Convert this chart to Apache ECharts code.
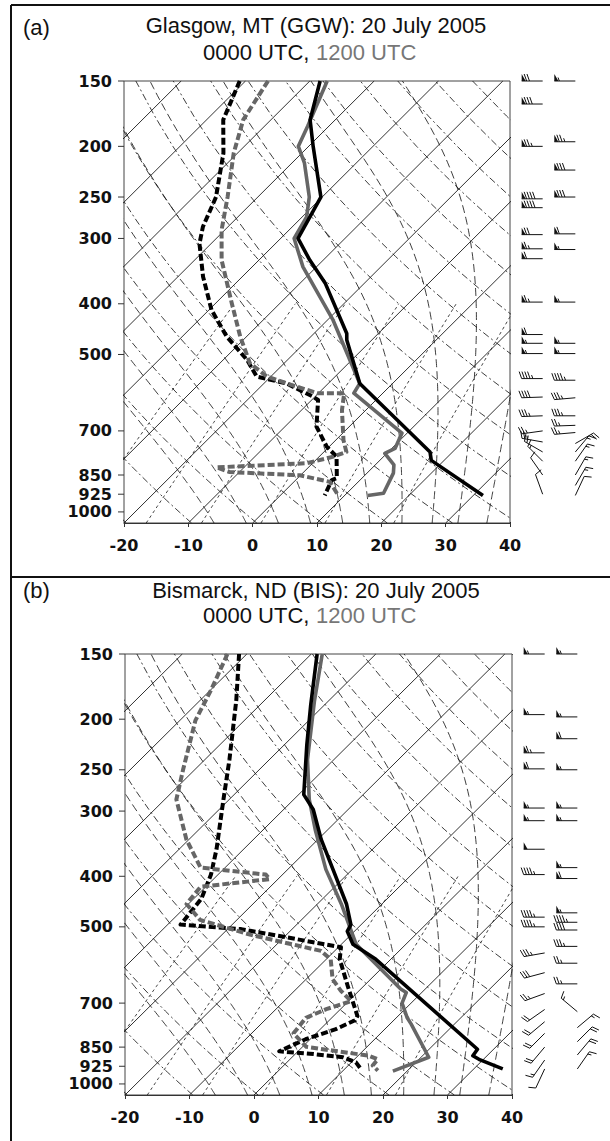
<!DOCTYPE html>
<html><head><meta charset="utf-8">
<script src="https://cdn.jsdelivr.net/npm/echarts@6/dist/echarts.min.js"></script>
<style>html,body{margin:0;padding:0;background:#fff}#c{width:610px;height:1141px}</style>
</head><body><div id="c"></div>
<script>
// ---------- data (pressure hPa, temperature °C) ----------
const pressureTicks = [150,200,250,300,400,500,700,850,925,1000];
const tempMin = -20, tempMax = 40, tempStep = 10;

// Panel (a) Glasgow, MT
const ggwTemp00 = [[150,-58.4],[178,-53.9],[200,-49.3],[250,-40.2],[300,-37.3],[330,-32.1],[366,-26.0],[456,-14.9],[469,-13.9],[568,-5.1],[768,16.5],[797,18.0],[930,31.5]];
const ggwTemp12 = [[150,-57.3],[183,-53.3],[200,-51.6],[215,-48.1],[250,-42.0],[273,-39.3],[300,-37.9],[340,-32.1],[430,-19.1],[568,-5.1],[593,-4.5],[707,9.2],[756,10.5],[773,9.7],[813,12.9],[843,14.1],[921,15.7],[930,13.6]];
const ggwDew00 = [[150,-70.9],[178,-67.4],[206,-62.2],[250,-56.5],[285,-53.9],[307,-51.8],[355,-46.1],[411,-39.6],[462,-33.1],[512,-26.3],[551,-22.2],[568,-16.5],[602,-10.3],[611,-9.0],[687,-5.1],[750,-0.4],[784,2.7],[862,6.1],[869,5.6],[930,6.9]];
const ggwDew12 = [[150,-66.5],[178,-64.3],[206,-60.6],[250,-54.7],[289,-50.5],[330,-45.8],[399,-37.5],[462,-31.0],[520,-25.3],[551,-20.6],[576,-14.4],[593,-10.1],[593,-6.0],[639,-3.7],[729,1.2],[768,3.5],[784,2.2],[807,-0.9],[822,-14.3],[839,-11.5],[851,-0.1],[876,5.6],[930,9.0]];

// Panel (b) Bismarck, ND
const bisTemp00 = [[150,-59.1],[188,-52.1],[224,-46.5],[279,-39.2],[298,-35.4],[340,-29.5],[388,-23.0],[452,-15.5],[495,-11.6],[510,-11.1],[540,-8.2],[577,-2.3],[858,27.5],[883,27.8],[897,29.3],[936,34.5]];
const bisTemp12 = [[150,-58.3],[185,-52.1],[239,-44.1],[285,-37.6],[326,-31.9],[388,-24.1],[452,-16.3],[540,-7.7],[658,6.2],[668,7.6],[700,8.6],[747,11.7],[768,13.3],[889,21.2],[945,17.8]];
const bisDew00 = [[150,-71.2],[184,-64.4],[239,-56.2],[285,-50.9],[355,-44.2],[397,-41.1],[442,-38.8],[495,-38.0],[505,-27.9],[547,-9.6],[577,-7.9],[649,-2.5],[741,3.7],[755,4.0],[785,2.4],[821,-0.7],[866,-2.9],[875,2.2],[889,7.9],[909,10.7],[936,12.5]];
const bisDew12 = [[150,-73.0],[176,-69.9],[201,-67.6],[250,-61.8],[285,-58.2],[340,-50.4],[385,-43.8],[397,-32.6],[405,-31.3],[419,-40.8],[452,-40.3],[485,-35.7],[518,-25.5],[556,-12.1],[577,-9.3],[630,-5.9],[663,-2.8],[694,0.4],[719,-2.2],[747,-4.0],[800,-3.5],[849,0.6],[883,11.7],[897,13.6],[922,13.8],[943,15.4]];

// wind barbs: [column, pressure hPa, speed kt, direction deg]
const ggwWind = [
 [1,150,70,270],[1,166,80,270],[1,200,75,270],[1,252,90,270],[1,262,90,270],[1,295,70,270],[1,314,65,270],[1,328,60,270],[1,397,65,270],[1,458,60,270],[1,476,55,270],[1,498,55,270],[1,556,45,270],[1,603,40,268],[1,655,35,268],[1,700,25,262],[1,735,25,280],[1,768,20,300],[1,800,15,315],[1,850,10,325],[1,925,10,340],
 [2,150,55,270],[2,196,75,270],[2,222,80,270],[2,250,80,270],[2,294,60,270],[2,315,55,270],[2,397,55,270],[2,476,55,270],[2,498,55,270],[2,560,45,270],[2,605,35,265],[2,655,35,270],[2,683,25,268],[2,705,25,265],[2,740,20,60],[2,768,15,40],[2,800,15,35],[2,850,15,30],[2,890,15,30],[2,930,10,25]
];
const bisWind = [
 [1,150,55,270],[1,196,55,270],[1,232,65,270],[1,249,60,270],[1,296,55,270],[1,313,55,270],[1,355,50,270],[1,397,45,270],[1,479,45,270],[1,500,45,270],[1,561,35,260],[1,612,30,255],[1,671,25,250],[1,720,20,235],[1,760,20,230],[1,800,20,225],[1,850,20,220],[1,900,15,215],[1,936,10,205],
 [2,150,55,270],[2,198,55,270],[2,218,60,270],[2,250,55,270],[2,296,55,270],[2,313,55,270],[2,385,55,270],[2,404,60,270],[2,470,55,270],[2,490,45,270],[2,507,40,270],[2,545,35,270],[2,587,25,270],[2,643,25,270],[2,727,15,310],[2,780,15,50],[2,830,20,45],[2,880,20,40],[2,936,15,35]
];

// ---------- skew-T geometry ----------
const P0 = 1050, PTOP = 150, SKEW = 35.4;
const sx = (T, p) => T + SKEW * Math.log(P0 / p);
const toXY = arr => arr.map(([p, T]) => [sx(T, p), p]);

function esat(Tc){ return 6.112 * Math.exp(17.67 * Tc / (Tc + 243.5)); }
function isotherm(T){ return [[sx(T,P0),P0],[sx(T,PTOP),PTOP]]; }
function dryAdiabat(theta){
  const pts=[]; for(let p=P0;p>=PTOP;p-=25){ pts.push([sx(theta*Math.pow(p/1000,0.2857)-273.15,p),p]); } return pts;
}
function moistAdiabat(T0){
  const pts=[]; let T=T0+273.15;
  for(let p=P0;p>=PTOP;p-=5){
    pts.push([sx(T-273.15,p),p]);
    const es=esat(T-273.15), rs=0.622*es/(p-es);
    const Lv=2.5e6,Rd=287,cp=1005;
    const dTdp=(Rd*T+Lv*rs)/(p*(cp+Lv*Lv*rs*0.622/(Rd*T*T)));
    T-=dTdp*5;
    if(T<170) break;
  }
  return pts;
}
function mixLine(w){
  const pts=[]; for(let p=P0;p>=400;p-=25){
    const r=w/1000, es=r*p/(0.622+r), l=Math.log(es/6.112);
    pts.push([sx(243.5*l/(17.67-l),p),p]);
  } return pts;
}

const isoTs=[]; for(let t=-130;t<=40;t+=10) isoTs.push(t);
const thetas=[]; for(let th=230;th<=480;th+=10) thetas.push(th);
const moistT0 = [-6,-1,4,9,14,18.2,23.2,27.9,31.9,36.4];
const mixW = [0.4,1,2,4,8,16];

function bgSeries(gi){
  const out=[];
  const base={type:'line',xAxisIndex:gi,yAxisIndex:gi,showSymbol:false,silent:true,clip:true,z:1,animation:false};
  isoTs.forEach(t=>out.push(Object.assign({},base,{data:isotherm(t),lineStyle:{color:'#1a1a1a',width:0.9}})));
  thetas.forEach(th=>out.push(Object.assign({},base,{data:dryAdiabat(th),lineStyle:{color:'#1a1a1a',width:0.85,type:[7,3,2,3]}})));
  moistT0.forEach(t=>out.push(Object.assign({},base,{data:moistAdiabat(t),lineStyle:{color:'#1a1a1a',width:0.85,type:[8,4]}})));
  mixW.forEach(w=>out.push(Object.assign({},base,{data:mixLine(w),lineStyle:{color:'#222',width:0.85,type:[3,3]}})));
  return out;
}
function profile(gi,arr,color,dashed){
  return {type:'line',xAxisIndex:gi,yAxisIndex:gi,data:toXY(arr),showSymbol:false,clip:true,z:5,animation:false,
    lineStyle:{color:color,width:dashed?4:3.6,type:dashed?[7,3]:'solid',cap:'butt',join:'round'}};
}
function pLabels(gi){
  return {type:'custom',xAxisIndex:gi,yAxisIndex:gi,clip:false,silent:true,z:6,animation:false,
    data:pressureTicks.map(p=>[tempMin,p]),
    renderItem:(params,api)=>{
      const c=api.coord([api.value(0),api.value(1)]);
      return {type:'group',children:[
        {type:'line',shape:{x1:c[0]-6,y1:c[1],x2:c[0],y2:c[1]},style:{stroke:'#333',lineWidth:1}},
        {type:'text',x:c[0]-12,y:c[1],style:{text:String(api.value(1)),align:'right',verticalAlign:'middle',font:'bold 16px "DejaVu Sans"',fill:'#111'}}
      ]};
    }};
}
function barbs(gi,arr){
  return {type:'custom',xAxisIndex:gi,yAxisIndex:gi,clip:false,silent:true,z:6,animation:false,data:arr,
    renderItem:(params,api)=>{
      const c=api.coord([api.value(0),api.value(1)]);
      const spd=api.value(2), dir=api.value(3)*Math.PI/180;
      const ux=Math.sin(dir), uy=-Math.cos(dir);
      const nx=-uy, ny=ux;
      const L=21, tip=[c[0]+ux*L,c[1]+uy*L];
      const along=d=>[tip[0]-ux*d,tip[1]-uy*d];
      const ch=[{type:'line',shape:{x1:c[0],y1:c[1],x2:tip[0],y2:tip[1]},style:{stroke:'#111',lineWidth:1}}];
      let s=Math.round(spd/5)*5; let d=0;
      const fl=Math.floor(s/50); s-=fl*50;
      for(let i=0;i<fl;i++){
        const a=along(d), b=along(d+4);
        ch.push({type:'polygon',shape:{points:[a,b,[a[0]+nx*7,a[1]+ny*7]]},style:{fill:'#111'}});
        d+=4.5;
      }
      if(fl>0) d+=0.5;
      const full=Math.floor(s/10); s-=full*10;
      for(let i=0;i<full;i++){
        const a=along(d);
        ch.push({type:'line',shape:{x1:a[0],y1:a[1],x2:a[0]+nx*7+ux*2.5,y2:a[1]+ny*7+uy*2.5},style:{stroke:'#111',lineWidth:1}});
        d+=2.8;
      }
      if(s>=5){
        if(d===0) d=2.8;
        const a=along(d);
        ch.push({type:'line',shape:{x1:a[0],y1:a[1],x2:a[0]+nx*3.5+ux*1.3,y2:a[1]+ny*3.5+uy*1.3},style:{stroke:'#111',lineWidth:1}});
      }
      return {type:'group',children:ch};
    }};
}

const axisFont={fontSize:16,fontFamily:'DejaVu Sans',fontWeight:'bold',color:'#111'};
function mainX(gi){return {gridIndex:gi,type:'value',min:tempMin,max:tempMax,interval:tempStep,
  axisLine:{show:true,onZero:false,lineStyle:{color:'#333',width:1}},axisTick:{show:true,length:4,lineStyle:{color:'#333'}},
  axisLabel:Object.assign({margin:14},axisFont),splitLine:{show:false}};}
function mainY(gi){return {gridIndex:gi,type:'log',logBase:10,min:PTOP,max:P0,inverse:true,
  axisLine:{show:false,onZero:false},axisTick:{show:false},axisLabel:{show:false},splitLine:{show:false}};}
function barbX(gi){return {gridIndex:gi,type:'value',min:0,max:3,show:false};}
function barbY(gi){return {gridIndex:gi,type:'log',logBase:10,min:PTOP,max:P0,inverse:true,show:false};}

const titleFont='22px "Liberation Sans", Arial, sans-serif';
function txt(x,y,text,color,align){return {type:'text',x:x,y:y,style:{text:text,font:titleFont,fill:color||'#111',align:align||'left',verticalAlign:'middle'},z:10};}
function hline(x1,y,x2,w){return {type:'line',shape:{x1:x1,y1:y,x2:x2,y2:y},style:{stroke:'#111',lineWidth:w||1.5},z:10};}
function vline(x,y1,y2,w){return {type:'line',shape:{x1:x,y1:y1,x2:x,y2:y2},style:{stroke:'#111',lineWidth:w||1.5},z:10};}

const chart=echarts.init(document.getElementById('c'),null,{renderer:'svg'});
chart.setOption({
  animation:false,
  backgroundColor:'#fff',
  grid:[
    {left:124,top:81,width:386,height:442,show:true,borderColor:'#444',borderWidth:1,backgroundColor:'transparent'},
    {left:510,top:81,width:98,height:442},
    {left:125,top:654,width:387,height:441,show:true,borderColor:'#444',borderWidth:1,backgroundColor:'transparent'},
    {left:512,top:654,width:98,height:441}
  ],
  xAxis:[mainX(0),barbX(1),mainX(2),barbX(3)],
  yAxis:[mainY(0),barbY(1),mainY(2),barbY(3)],
  series:[].concat(
    bgSeries(0),
    [profile(0,ggwDew00,'#000',true),profile(0,ggwDew12,'#666',true),profile(0,ggwTemp12,'#666',false),profile(0,ggwTemp00,'#000',false),pLabels(0),barbs(1,ggwWind)],
    bgSeries(2),
    [profile(2,bisDew00,'#000',true),profile(2,bisDew12,'#666',true),profile(2,bisTemp12,'#666',false),profile(2,bisTemp00,'#000',false),pLabels(2),barbs(3,bisWind)]
  ),
  graphic:[
    hline(11,5,610,2), vline(11,5,1141,2), hline(11,577,610,2),
    txt(23,27,'(a)'), txt(316,25,'Glasgow, MT (GGW): 20 July 2005','#111','center'),
    txt(203,52,'0000 UTC,','#111'), txt(316,52,'1200 UTC','#777'),
    txt(23,590,'(b)'), txt(316,590,'Bismarck, ND (BIS): 20 July 2005','#111','center'),
    txt(203,615,'0000 UTC,','#111'), txt(316,615,'1200 UTC','#777')
  ]
});
</script></body></html>
